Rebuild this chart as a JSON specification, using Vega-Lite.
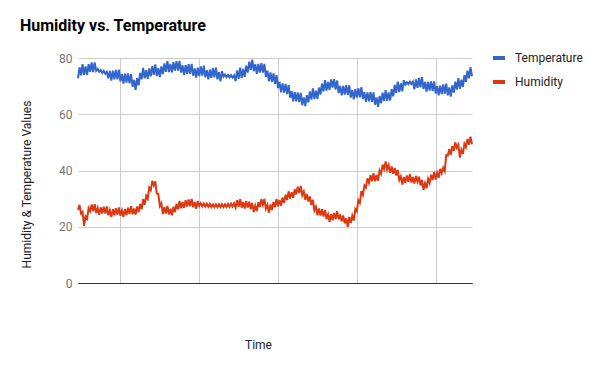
{
  "$schema": "https://vega.github.io/schema/vega-lite/v6.json",
  "width": 394,
  "height": 225,
  "autosize": {"type": "none"},
  "padding": {"left": 78, "top": 58, "right": 128, "bottom": 88},
  "background": "#ffffff",
  "title": {
    "text": "Humidity vs. Temperature",
    "anchor": "start",
    "frame": "group",
    "dx": -58,
    "offset": 3,
    "font": "Roboto",
    "fontSize": 16,
    "fontWeight": "bold",
    "color": "#000000",
    "baseline": "alphabetic"
  },
  "config": {
    "view": {"stroke": null},
    "font": "Roboto"
  },
  "data": {
    "values": [
      {"t":0,"Temperature":72.8,"Humidity":26.0},{"t":0.5,"Temperature":76.7,"Humidity":27.8},
      {"t":1,"Temperature":73.8,"Humidity":24.7},{"t":1.5,"Temperature":77.8,"Humidity":25.3},
      {"t":2,"Temperature":74.0,"Humidity":20.3},{"t":2.5,"Temperature":77.0,"Humidity":23.7},
      {"t":3,"Temperature":74.0,"Humidity":22.9},{"t":3.5,"Temperature":77.8,"Humidity":26.6},
      {"t":4,"Temperature":75.1,"Humidity":25.5},{"t":4.5,"Temperature":78.4,"Humidity":27.9},
      {"t":5,"Temperature":75.0,"Humidity":25.5},{"t":5.5,"Temperature":78.4,"Humidity":28.0},
      {"t":6,"Temperature":75.4,"Humidity":24.9},{"t":6.5,"Temperature":76.1,"Humidity":26.7},
      {"t":7,"Temperature":75.1,"Humidity":24.3},{"t":7.5,"Temperature":75.7,"Humidity":26.9},
      {"t":8,"Temperature":74.7,"Humidity":24.7},{"t":8.5,"Temperature":75.4,"Humidity":27.1},
      {"t":9,"Temperature":74.4,"Humidity":24.7},{"t":9.5,"Temperature":75.1,"Humidity":27.2},
      {"t":10,"Temperature":72.8,"Humidity":24.1},{"t":10.5,"Temperature":75.4,"Humidity":25.9},
      {"t":11,"Temperature":72.0,"Humidity":23.5},{"t":11.5,"Temperature":75.5,"Humidity":26.2},
      {"t":12,"Temperature":72.4,"Humidity":24.1},{"t":12.5,"Temperature":75.8,"Humidity":26.6},
      {"t":13,"Temperature":72.4,"Humidity":24.3},{"t":13.5,"Temperature":75.9,"Humidity":26.9},
      {"t":14,"Temperature":71.7,"Humidity":23.9},{"t":14.5,"Temperature":74.3,"Humidity":25.8},
      {"t":15,"Temperature":70.9,"Humidity":23.5},{"t":15.5,"Temperature":74.4,"Humidity":26.3},
      {"t":16,"Temperature":71.3,"Humidity":24.2},{"t":16.5,"Temperature":74.5,"Humidity":26.8},
      {"t":17,"Temperature":71.0,"Humidity":24.5},{"t":17.5,"Temperature":74.3,"Humidity":27.3},
      {"t":18,"Temperature":69.8,"Humidity":24.4},{"t":18.5,"Temperature":72.2,"Humidity":26.5},
      {"t":19,"Temperature":68.7,"Humidity":24.3},{"t":19.5,"Temperature":72.8,"Humidity":27.2},
      {"t":20,"Temperature":70.3,"Humidity":25.2},{"t":20.5,"Temperature":74.7,"Humidity":28.1},
      {"t":21,"Temperature":72.4,"Humidity":26.2},{"t":21.5,"Temperature":76.5,"Humidity":29.8},
      {"t":22,"Temperature":72.8,"Humidity":27.8},{"t":22.5,"Temperature":75.7,"Humidity":31.0},
      {"t":23,"Temperature":72.6,"Humidity":29.9},{"t":23.5,"Temperature":76.3,"Humidity":33.9},
      {"t":24,"Temperature":73.5,"Humidity":33.0},{"t":24.5,"Temperature":77.1,"Humidity":36.3},
      {"t":25,"Temperature":74.0,"Humidity":34.7},{"t":25.5,"Temperature":77.7,"Humidity":36.1},
      {"t":26,"Temperature":73.6,"Humidity":31.8},{"t":26.5,"Temperature":76.4,"Humidity":31.7},
      {"t":27,"Temperature":73.2,"Humidity":27.4},{"t":27.5,"Temperature":77.0,"Humidity":28.4},
      {"t":28,"Temperature":74.3,"Humidity":24.5},{"t":28.5,"Temperature":78.1,"Humidity":27.0},
      {"t":29,"Temperature":75.1,"Humidity":24.7},{"t":29.5,"Temperature":78.9,"Humidity":27.4},
      {"t":30,"Temperature":75.0,"Humidity":24.4},{"t":30.5,"Temperature":77.9,"Humidity":26.4},
      {"t":31,"Temperature":74.9,"Humidity":24.1},{"t":31.5,"Temperature":78.5,"Humidity":27.1},
      {"t":32,"Temperature":75.5,"Humidity":25.2},{"t":32.5,"Temperature":78.9,"Humidity":28.1},
      {"t":33,"Temperature":75.5,"Humidity":26.2},{"t":33.5,"Temperature":79.0,"Humidity":29.2},
      {"t":34,"Temperature":74.8,"Humidity":26.6},{"t":34.5,"Temperature":77.4,"Humidity":28.8},
      {"t":35,"Temperature":74.0,"Humidity":26.7},{"t":35.5,"Temperature":77.5,"Humidity":29.4},
      {"t":36,"Temperature":74.4,"Humidity":27.2},{"t":36.5,"Temperature":77.8,"Humidity":29.7},
      {"t":37,"Temperature":74.4,"Humidity":27.3},{"t":37.5,"Temperature":77.9,"Humidity":29.9},
      {"t":38,"Temperature":73.7,"Humidity":26.9},{"t":38.5,"Temperature":76.3,"Humidity":28.8},
      {"t":39,"Temperature":73.0,"Humidity":26.4},{"t":39.5,"Temperature":76.6,"Humidity":29.1},
      {"t":40,"Temperature":73.6,"Humidity":27.4},{"t":40.5,"Temperature":77.0,"Humidity":28.4},
      {"t":41,"Temperature":73.7,"Humidity":27.3},{"t":41.5,"Temperature":77.3,"Humidity":28.3},
      {"t":42,"Temperature":73.1,"Humidity":27.2},{"t":42.5,"Temperature":75.7,"Humidity":28.2},
      {"t":43,"Temperature":72.4,"Humidity":27.1},{"t":43.5,"Temperature":75.9,"Humidity":28.1},
      {"t":44,"Temperature":72.9,"Humidity":27.0},{"t":44.5,"Temperature":76.4,"Humidity":28.0},
      {"t":45,"Temperature":73.1,"Humidity":27.0},{"t":45.5,"Temperature":76.6,"Humidity":28.0},
      {"t":46,"Temperature":72.4,"Humidity":27.0},{"t":46.5,"Temperature":75.0,"Humidity":28.0},
      {"t":47,"Temperature":71.7,"Humidity":27.0},{"t":47.5,"Temperature":75.3,"Humidity":28.0},
      {"t":48,"Temperature":73.4,"Humidity":27.0},{"t":48.5,"Temperature":74.1,"Humidity":28.0},
      {"t":49,"Temperature":73.2,"Humidity":27.0},{"t":49.5,"Temperature":74.0,"Humidity":28.1},
      {"t":50,"Temperature":73.1,"Humidity":27.1},{"t":50.5,"Temperature":73.9,"Humidity":28.2},
      {"t":51,"Temperature":73.0,"Humidity":27.2},{"t":51.5,"Temperature":73.8,"Humidity":28.3},
      {"t":52,"Temperature":71.8,"Humidity":26.8},{"t":52.5,"Temperature":75.6,"Humidity":29.4},
      {"t":53,"Temperature":72.6,"Humidity":27.1},{"t":53.5,"Temperature":76.6,"Humidity":29.8},
      {"t":54,"Temperature":72.9,"Humidity":26.8},{"t":54.5,"Temperature":76.1,"Humidity":28.8},
      {"t":55,"Temperature":73.3,"Humidity":26.5},{"t":55.5,"Temperature":77.3,"Humidity":29.1},
      {"t":56,"Temperature":74.8,"Humidity":26.8},{"t":56.5,"Temperature":78.7,"Humidity":28.9},
      {"t":57,"Temperature":75.8,"Humidity":26.2},{"t":57.5,"Temperature":79.4,"Humidity":28.5},
      {"t":58,"Temperature":75.3,"Humidity":25.2},{"t":58.5,"Temperature":77.8,"Humidity":27.5},
      {"t":59,"Temperature":74.4,"Humidity":25.6},{"t":59.5,"Temperature":77.9,"Humidity":28.7},
      {"t":60,"Temperature":74.8,"Humidity":27.0},{"t":60.5,"Temperature":78.2,"Humidity":29.8},
      {"t":61,"Temperature":74.8,"Humidity":27.8},{"t":61.5,"Temperature":77.9,"Humidity":29.9},
      {"t":62,"Temperature":73.3,"Humidity":26.4},{"t":62.5,"Temperature":75.5,"Humidity":27.8},
      {"t":63,"Temperature":71.7,"Humidity":25.0},{"t":63.5,"Temperature":74.9,"Humidity":27.9},
      {"t":64,"Temperature":71.5,"Humidity":25.9},{"t":64.5,"Temperature":74.5,"Humidity":28.8},
      {"t":65,"Temperature":70.8,"Humidity":26.9},{"t":65.5,"Temperature":73.9,"Humidity":29.9},
      {"t":66,"Temperature":69.3,"Humidity":27.3},{"t":66.5,"Temperature":71.5,"Humidity":29.5},
      {"t":67,"Temperature":67.8,"Humidity":27.5},{"t":67.5,"Temperature":71.0,"Humidity":30.4},
      {"t":68,"Temperature":67.7,"Humidity":28.5},{"t":68.5,"Temperature":70.8,"Humidity":31.4},
      {"t":69,"Temperature":67.2,"Humidity":29.5},{"t":69.5,"Temperature":70.4,"Humidity":32.6},
      {"t":70,"Temperature":65.9,"Humidity":30.0},{"t":70.5,"Temperature":68.2,"Humidity":32.3},
      {"t":71,"Temperature":64.6,"Humidity":30.3},{"t":71.5,"Temperature":67.9,"Humidity":33.3},
      {"t":72,"Temperature":64.6,"Humidity":31.5},{"t":72.5,"Temperature":67.8,"Humidity":34.2},
      {"t":73,"Temperature":64.3,"Humidity":32.1},{"t":73.5,"Temperature":67.6,"Humidity":34.5},
      {"t":74,"Temperature":63.2,"Humidity":31.2},{"t":74.5,"Temperature":66.0,"Humidity":32.5},
      {"t":75,"Temperature":62.9,"Humidity":29.6},{"t":75.5,"Temperature":66.8,"Humidity":31.7},
      {"t":76,"Temperature":64.2,"Humidity":29.0},{"t":76.5,"Temperature":68.1,"Humidity":30.8},
      {"t":77,"Temperature":65.2,"Humidity":27.7},{"t":77.5,"Temperature":69.2,"Humidity":29.6},
      {"t":78,"Temperature":65.4,"Humidity":25.8},{"t":78.5,"Temperature":68.4,"Humidity":27.1},
      {"t":79,"Temperature":65.5,"Humidity":24.1},{"t":79.5,"Temperature":69.5,"Humidity":26.5},
      {"t":80,"Temperature":67.0,"Humidity":24.0},{"t":80.5,"Temperature":70.9,"Humidity":26.2},
      {"t":81,"Temperature":68.1,"Humidity":23.6},{"t":81.5,"Temperature":72.1,"Humidity":26.0},
      {"t":82,"Temperature":68.4,"Humidity":22.7},{"t":82.5,"Temperature":71.5,"Humidity":24.4},
      {"t":83,"Temperature":68.7,"Humidity":21.8},{"t":83.5,"Temperature":72.4,"Humidity":24.5},
      {"t":84,"Temperature":69.5,"Humidity":22.3},{"t":84.5,"Temperature":72.5,"Humidity":24.9},
      {"t":85,"Temperature":68.8,"Humidity":22.7},{"t":85.5,"Temperature":72.0,"Humidity":25.5},
      {"t":86,"Temperature":67.5,"Humidity":22.6},{"t":86.5,"Temperature":70.1,"Humidity":24.4},
      {"t":87,"Temperature":66.7,"Humidity":21.9},{"t":87.5,"Temperature":70.1,"Humidity":24.0},
      {"t":88,"Temperature":67.0,"Humidity":21.2},{"t":88.5,"Temperature":70.3,"Humidity":23.0},
      {"t":89,"Temperature":66.9,"Humidity":20.0},{"t":89.5,"Temperature":70.3,"Humidity":23.5},
      {"t":90,"Temperature":65.9,"Humidity":21.3},{"t":90.5,"Temperature":68.6,"Humidity":23.9},
      {"t":91,"Temperature":65.3,"Humidity":22.2},{"t":91.5,"Temperature":68.9,"Humidity":26.3},
      {"t":92,"Temperature":65.9,"Humidity":25.5},{"t":92.5,"Temperature":69.3,"Humidity":29.4},
      {"t":93,"Temperature":66.0,"Humidity":28.5},{"t":93.5,"Temperature":69.6,"Humidity":32.7},
      {"t":94,"Temperature":65.4,"Humidity":31.3},{"t":94.5,"Temperature":67.9,"Humidity":34.7},
      {"t":95,"Temperature":64.4,"Humidity":33.9},{"t":95.5,"Temperature":67.8,"Humidity":37.2},
      {"t":96,"Temperature":64.6,"Humidity":35.6},{"t":96.5,"Temperature":67.9,"Humidity":38.3},
      {"t":97,"Temperature":64.4,"Humidity":36.2},{"t":97.5,"Temperature":67.8,"Humidity":39.0},
      {"t":98,"Temperature":63.4,"Humidity":36.2},{"t":98.5,"Temperature":66.0,"Humidity":38.4},
      {"t":99,"Temperature":62.6,"Humidity":36.4},{"t":99.5,"Temperature":66.5,"Humidity":40.0},
      {"t":100,"Temperature":63.9,"Humidity":38.8},{"t":100.5,"Temperature":67.7,"Humidity":42.1},
      {"t":101,"Temperature":64.7,"Humidity":40.5},{"t":101.5,"Temperature":68.6,"Humidity":43.2},
      {"t":102,"Temperature":64.8,"Humidity":40.3},{"t":102.5,"Temperature":67.8,"Humidity":41.9},
      {"t":103,"Temperature":64.9,"Humidity":39.2},{"t":103.5,"Temperature":68.9,"Humidity":41.4},
      {"t":104,"Temperature":66.4,"Humidity":38.8},{"t":104.5,"Temperature":70.4,"Humidity":40.9},
      {"t":105,"Temperature":67.6,"Humidity":38.2},{"t":105.5,"Temperature":71.6,"Humidity":40.2},
      {"t":106,"Temperature":67.9,"Humidity":36.6},{"t":106.5,"Temperature":71.0,"Humidity":37.9},
      {"t":107,"Temperature":68.2,"Humidity":35.0},{"t":107.5,"Temperature":72.1,"Humidity":37.7},
      {"t":108,"Temperature":70.5,"Humidity":35.6},{"t":108.5,"Temperature":71.4,"Humidity":38.2},
      {"t":109,"Temperature":70.7,"Humidity":36.0},{"t":109.5,"Temperature":71.6,"Humidity":38.7},
      {"t":110,"Temperature":70.8,"Humidity":35.7},{"t":110.5,"Temperature":71.6,"Humidity":37.7},
      {"t":111,"Temperature":68.9,"Humidity":35.4},{"t":111.5,"Temperature":72.4,"Humidity":38.1},
      {"t":112,"Temperature":69.4,"Humidity":36.0},{"t":112.5,"Temperature":72.9,"Humidity":37.8},
      {"t":113,"Temperature":69.6,"Humidity":34.7},{"t":113.5,"Temperature":73.2,"Humidity":36.7},
      {"t":114,"Temperature":69.0,"Humidity":33.1},{"t":114.5,"Temperature":71.5,"Humidity":35.5},
      {"t":115,"Temperature":68.1,"Humidity":33.7},{"t":115.5,"Temperature":71.5,"Humidity":37.0},
      {"t":116,"Temperature":68.4,"Humidity":35.5},{"t":116.5,"Temperature":71.7,"Humidity":38.5},
      {"t":117,"Temperature":68.3,"Humidity":36.6},{"t":117.5,"Temperature":71.7,"Humidity":39.5},
      {"t":118,"Temperature":67.4,"Humidity":36.8},{"t":118.5,"Temperature":70.0,"Humidity":39.2},
      {"t":119,"Temperature":66.7,"Humidity":37.4},{"t":119.5,"Temperature":70.2,"Humidity":40.6},
      {"t":120,"Temperature":67.2,"Humidity":39.0},{"t":120.5,"Temperature":70.6,"Humidity":41.0},
      {"t":121,"Temperature":67.3,"Humidity":39.8},{"t":121.5,"Temperature":70.9,"Humidity":45.5},
      {"t":122,"Temperature":66.7,"Humidity":45.3},{"t":122.5,"Temperature":69.5,"Humidity":47.6},
      {"t":123,"Temperature":66.3,"Humidity":45.6},{"t":123.5,"Temperature":70.3,"Humidity":48.7},
      {"t":124,"Temperature":67.7,"Humidity":47.0},{"t":124.5,"Temperature":71.6,"Humidity":50.0},
      {"t":125,"Temperature":68.8,"Humidity":48.1},{"t":125.5,"Temperature":72.8,"Humidity":49.2},
      {"t":126,"Temperature":69.0,"Humidity":44.6},{"t":126.5,"Temperature":72.3,"Humidity":47.4},
      {"t":127,"Temperature":69.7,"Humidity":45.9},{"t":127.5,"Temperature":73.9,"Humidity":49.5},
      {"t":128,"Temperature":71.5,"Humidity":48.3},{"t":128.5,"Temperature":75.5,"Humidity":51.2},
      {"t":129,"Temperature":72.8,"Humidity":49.2},{"t":129.5,"Temperature":76.7,"Humidity":52.0},
      {"t":130,"Temperature":73.5,"Humidity":49.3}
    ]
  },
  "transform": [{"fold": ["Temperature", "Humidity"], "as": ["series", "value"]}],
  "mark": {"type": "line", "strokeWidth": 2, "interpolate": "linear"},
  "encoding": {
    "x": {
      "field": "t",
      "type": "quantitative",
      "scale": {"domain": [0, 130], "nice": false, "zero": false},
      "axis": {
        "values": [13.9, 40, 66, 92, 118],
        "labels": false,
        "ticks": false,
        "domain": true,
        "domainColor": "#333333",
        "domainWidth": 1,
        "grid": true,
        "gridColor": "#cccccc",
        "title": "Time",
        "titleFont": "Roboto",
        "titleFontSize": 12,
        "titleFontWeight": "normal",
        "titleColor": "#222222",
        "titleX": 180,
        "titleY": 56,
        "titleBaseline": "top",
        "titleAlign": "center"
      }
    },
    "y": {
      "field": "value",
      "type": "quantitative",
      "scale": {"domain": [0, 80], "nice": false},
      "axis": {
        "values": [0, 20, 40, 60, 80],
        "domain": false,
        "ticks": false,
        "grid": true,
        "gridColor": {"condition": {"test": "datum.value === 0", "value": "#333333"}, "value": "#cccccc"},
        "labelFont": "Roboto",
        "labelFontSize": 12,
        "labelColor": "#757575",
        "labelPadding": 6,
        "title": "Humidity & Temperature Values",
        "titleFont": "Roboto",
        "titleFontSize": 12,
        "titleFontWeight": "normal",
        "titleColor": "#222222",
        "titleX": -45,
        "titleY": 126,
        "titleAngle": -90,
        "titleAlign": "center",
        "titleBaseline": "bottom"
      }
    },
    "color": {
      "field": "series",
      "type": "nominal",
      "sort": ["Temperature", "Humidity"],
      "scale": {"domain": ["Temperature", "Humidity"], "range": ["#3366cc", "#dc3912"]},
      "legend": {
        "title": null,
        "orient": "none",
        "legendX": 413,
        "legendY": -8,
        "padding": 0,
        "symbolType": "stroke",
        "symbolSize": 144,
        "symbolStrokeWidth": 4,
        "labelFont": "Roboto",
        "labelFontSize": 12,
        "labelColor": "#222222",
        "labelOffset": 8,
        "rowPadding": 8
      }
    }
  }
}
